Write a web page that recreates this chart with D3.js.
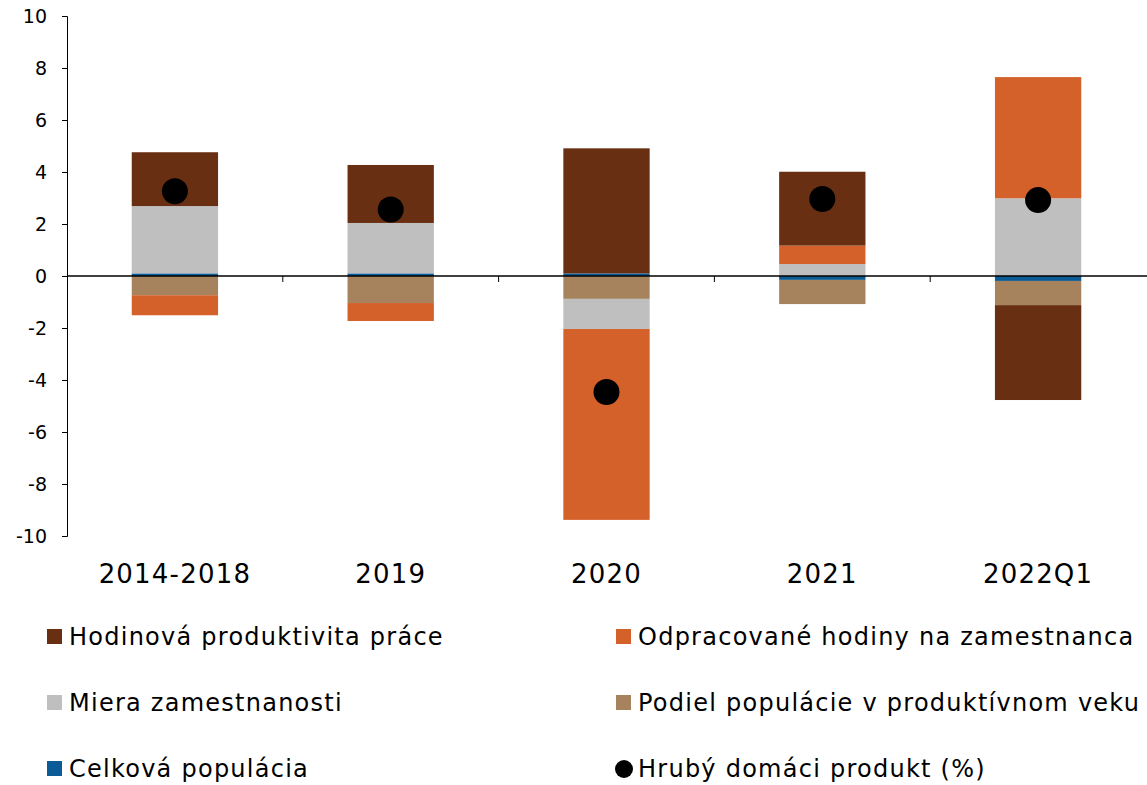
<!DOCTYPE html>
<html>
<head>
<meta charset="utf-8">
<script src="https://cdn.jsdelivr.net/npm/d3@7"></script>
<style>
  body { margin: 0; background: #fff; }
  text { font-family: "DejaVu Sans", Verdana, sans-serif; fill: #000; }
</style>
</head>
<body>
<div id="chart"></div>
<script>
var categories = ["2014-2018", "2019", "2020", "2021", "2022Q1"];

// series values
var hodinova    = [2.07, 2.23, 4.81, 2.84, -3.65];
var odpracovane = [-0.77, -0.69, -7.34, 0.71, 4.66];
var miera       = [2.59, 1.94, -1.16, 0.46, 2.99];
var podiel      = [-0.74, -1.04, -0.88, -0.93, -0.93];
var celkova     = [0.1, 0.1, 0.1, -0.15, -0.19];
var hdp         = [3.26, 2.56, -4.46, 2.96, 2.92];

var yTicks = [-10, -8, -6, -4, -2, 0, 2, 4, 6, 8, 10];

// stacking order: first key sits next to zero
var series = [
  {key: "celkova", name: "Celková populácia", values: celkova, color: "#0B5B97"},
  {key: "podiel", name: "Podiel populácie v produktívnom veku", values: podiel, color: "#A6835C"},
  {key: "miera", name: "Miera zamestnanosti", values: miera, color: "#BFBFBF"},
  {key: "odpracovane", name: "Odpracované hodiny na zamestnanca", values: odpracovane, color: "#D4602A"},
  {key: "hodinova", name: "Hodinová produktivita práce", values: hodinova, color: "#682F13"}
];

var width = 1147, height = 785;
var margin = {top: 16, left: 67};

var svg = d3.select("#chart").append("svg")
    .attr("width", width)
    .attr("height", height);

var x = d3.scaleBand()
    .domain(categories)
    .range([margin.left, width - 1])
    .paddingInner(0.6)
    .paddingOuter(0.3);

var xb = d3.scaleBand()
    .domain(categories)
    .range([margin.left, width - 1]);

var y = d3.scaleLinear()
    .domain([-10, 10])
    .range([536, margin.top]);

// table for the stack
var rows = categories.map(function(c, i) {
  var r = {cat: c};
  series.forEach(function(s) { r[s.key] = s.values[i]; });
  return r;
});

var stacked = d3.stack()
    .keys(series.map(function(s) { return s.key; }))
    .offset(d3.stackOffsetDiverging)(rows);

svg.append("g").selectAll("g")
  .data(stacked)
  .join("g")
    .attr("fill", function(d, i) { return series[i].color; })
  .selectAll("rect")
  .data(function(d) { return d; })
  .join("rect")
    .attr("x", function(d) { return x(d.data.cat); })
    .attr("width", x.bandwidth())
    .attr("y", function(d) { return y(Math.max(d[0], d[1])); })
    .attr("height", function(d) { return Math.abs(y(d[0]) - y(d[1])); });

// y axis
var yAxis = d3.axisLeft(y)
    .tickValues(yTicks)
    .tickSize(5)
    .tickPadding(15)
    .tickFormat(function(d) { return String(d); });

var gy = svg.append("g")
    .attr("transform", "translate(" + margin.left + ",0)")
    .call(yAxis);
gy.selectAll("text").style("font-size", "19px").attr("font-family", null);
gy.select(".domain").attr("stroke", "#000");
gy.selectAll("line").attr("stroke", "#000");

// zero line with category separators
var gx = svg.append("g")
    .attr("transform", "translate(0," + y(0) + ")");
gx.append("line")
    .attr("x1", margin.left)
    .attr("x2", width)
    .attr("stroke", "#000")
    .attr("stroke-width", 1.3);
gx.selectAll(".sep")
  .data(categories.slice(1))
  .join("line")
    .attr("class", "sep")
    .attr("x1", function(d) { return xb(d); })
    .attr("x2", function(d) { return xb(d); })
    .attr("y1", 0)
    .attr("y2", 6)
    .attr("stroke", "#000");

// category labels
svg.append("g").selectAll("text")
  .data(categories)
  .join("text")
    .attr("x", function(d) { return x(d) + x.bandwidth() / 2; })
    .attr("y", 583)
    .attr("text-anchor", "middle")
    .style("font-size", "26px")
    .style("letter-spacing", "1.2px")
    .text(function(d) { return d; });

// GDP dots
svg.append("g").selectAll("circle")
  .data(hdp)
  .join("circle")
    .attr("cx", function(d, i) { return x(categories[i]) + x.bandwidth() / 2; })
    .attr("cy", function(d) { return y(d); })
    .attr("r", 13)
    .attr("fill", "#000");

// legend
var legendItems = [
  {name: "Hodinová produktivita práce", color: "#682F13", col: 0, row: 0},
  {name: "Odpracované hodiny na zamestnanca", color: "#D4602A", col: 1, row: 0},
  {name: "Miera zamestnanosti", color: "#BFBFBF", col: 0, row: 1},
  {name: "Podiel populácie v produktívnom veku", color: "#A6835C", col: 1, row: 1},
  {name: "Celková populácia", color: "#0B5B97", col: 0, row: 2},
  {name: "Hrubý domáci produkt (%)", color: "#000", col: 1, row: 2, dot: true}
];
var colX = [47, 616];
var rowY = [637, 703, 769];

var lg = svg.append("g").selectAll("g")
  .data(legendItems)
  .join("g")
    .attr("transform", function(d) { return "translate(" + colX[d.col] + "," + rowY[d.row] + ")"; });

lg.filter(function(d) { return !d.dot; }).append("rect")
    .attr("x", 0).attr("y", -8).attr("width", 15).attr("height", 15)
    .attr("fill", function(d) { return d.color; });
lg.filter(function(d) { return d.dot; }).append("circle")
    .attr("cx", 8).attr("cy", 0).attr("r", 9)
    .attr("fill", "#000");
lg.append("text")
    .attr("x", 22)
    .attr("y", 8)
    .style("font-size", "24px")
    .style("letter-spacing", "1.25px")
    .text(function(d) { return d.name; });
</script>
</body>
</html>
